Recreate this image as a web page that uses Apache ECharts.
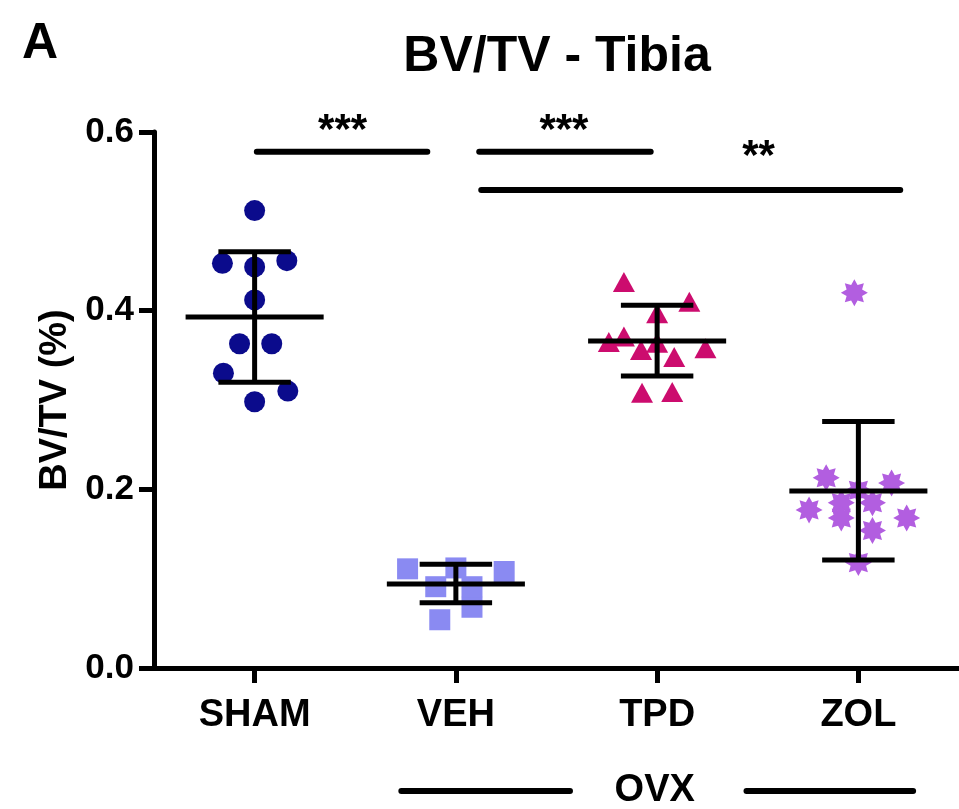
<!DOCTYPE html>
<html>
<head>
<meta charset="utf-8">
<script src="https://cdn.jsdelivr.net/npm/echarts@6/dist/echarts.min.js"></script>
<style>
  html, body { margin: 0; padding: 0; background: #fff; }
  #chart { width: 959px; height: 809px; }
</style>
</head>
<body>
<div id="chart"></div>
<script>
// groups on the x axis
const groups = ['SHAM', 'VEH', 'TPD', 'ZOL'];
const yTicks = [0.0, 0.2, 0.4, 0.6];

// individual animals: horizontal offset inside the group, value
const shamOffset = [0, -0.16, 0, 0.16, 0, -0.075, 0.085, -0.155, 0.165, 0];
const shamValue = [0.512, 0.453, 0.449, 0.456, 0.412, 0.363, 0.363, 0.330, 0.310, 0.298];
const vehOffset = [-0.24, 0, 0.24, -0.08, 0.08, 0.08, -0.1];
const vehValue = [0.111, 0.112, 0.108, 0.054, 0.068, 0.091, 0.091];
const tpdOffset = [-0.165, 0.16, 0, -0.24, -0.165, -0.08, 0, 0.085, 0.24, -0.075, 0.075];
const tpdValue = [0.432, 0.410, 0.397, 0.365, 0.371, 0.356, 0.364, 0.348, 0.358, 0.308, 0.309];
const zolOffset = [-0.02, -0.16, 0.165, 0, -0.245, -0.085, 0.07, -0.085, 0.24, 0.07, 0];
const zolValue = [0.420, 0.213, 0.207, 0.199, 0.177, 0.185, 0.185, 0.168, 0.168, 0.154, 0.118];

// mean and mean +/- SD per group
const means = [0.393, 0.094, 0.366, 0.198];
const sdLow = [0.320, 0.073, 0.327, 0.121];
const sdHigh = [0.466, 0.116, 0.406, 0.276];

// significance brackets: from x, to x, height
const sigBars = [[0.011, 0.858, 0.578], [1.116, 1.968, 0.578], [1.126, 3.208, 0.535]];
const sigStars = ['***', '***', '**'];
const sigStarPos = [[0.437, 0.6006], [1.537, 0.6006], [2.504, 0.5715]];

// OVX group marker below the axis
const ovxLines = [[0.729, 1.567], [2.444, 3.272]];
const ovxY = -0.1377;
const ovxLabelPos = [1.988, -0.1366];

const FONT = '"Liberation Sans", Arial, Helvetica, sans-serif';

function pts(gi, offs, vals) {
  return vals.map((v, i) => [gi + offs[i], v]);
}

// 8 spoke asterisk used for ZOL
function asteriskPath() {
  let d = '';
  for (let k = 0; k < 16; k++) {
    const a = Math.PI * k / 8 - Math.PI / 2;
    const r = k % 2 === 0 ? 1 : 0.62;
    d += (k === 0 ? 'M' : 'L') + (r * Math.cos(a)).toFixed(3) + ' ' + (r * Math.sin(a)).toFixed(3) + ' ';
  }
  return 'path://' + d + 'Z';
}

const chart = echarts.init(document.getElementById('chart'));

const errData = groups.map((g, i) => [i, means[i], sdLow[i], sdHigh[i]]);

chart.setOption({
  animation: false,
  backgroundColor: '#fff',
  grid: { left: 154, right: 0, top: 132, bottom: 141, containLabel: false },
  graphic: [
    { type: 'text', left: 22, top: 19, style: { text: 'A', font: 'bold 50px ' + FONT, fill: '#000' } },
    { type: 'text', x: 557, y: 57, style: { text: 'BV/TV - Tibia', font: 'bold 50px ' + FONT, fill: '#000', align: 'center', verticalAlign: 'middle' } }
  ],
  xAxis: [
    {
      type: 'category',
      data: groups,
      boundaryGap: true,
      axisLine: { lineStyle: { color: '#000', width: 5 } },
      axisTick: { show: true, alignWithLabel: true, length: 15, lineStyle: { color: '#000', width: 5 } },
      axisLabel: { color: '#000', fontSize: 38, fontWeight: 'bold', fontFamily: FONT, margin: 29 },
      splitLine: { show: false }
    },
    { type: 'value', min: -0.5, max: 3.5, show: false }
  ],
  yAxis: {
    type: 'value',
    min: 0,
    max: 0.6,
    interval: 0.2,
    name: 'BV/TV (%)',
    nameLocation: 'middle',
    nameRotate: 90,
    nameGap: 62,
    nameTextStyle: { color: '#000', fontSize: 38, fontWeight: 'bold', fontFamily: FONT },
    axisLine: { show: true, onZero: false, lineStyle: { color: '#000', width: 5 } },
    axisTick: { show: true, length: 15, lineStyle: { color: '#000', width: 5 } },
    axisLabel: { color: '#000', fontSize: 35, fontWeight: 'bold', fontFamily: FONT, margin: 20, formatter: v => v.toFixed(1) },
    splitLine: { show: false }
  },
  series: [
    { type: 'scatter', xAxisIndex: 1, symbol: 'circle', symbolSize: 21, itemStyle: { color: '#0b0b8c', opacity: 1 }, data: pts(0, shamOffset, shamValue), z: 2 },
    { type: 'scatter', xAxisIndex: 1, symbol: 'rect', symbolSize: 21, itemStyle: { color: '#8a8af2', opacity: 1 }, data: pts(1, vehOffset, vehValue), z: 2 },
    { type: 'scatter', xAxisIndex: 1, symbol: 'triangle', symbolSize: [22, 20], itemStyle: { color: '#cc0c6e', opacity: 1 }, data: pts(2, tpdOffset, tpdValue), z: 2 },
    { type: 'scatter', xAxisIndex: 1, symbol: asteriskPath(), symbolSize: 27, itemStyle: { color: '#b25ee0', opacity: 1 }, data: pts(3, zolOffset, zolValue), z: 2 },
    {
      // mean +/- SD
      type: 'custom',
      xAxisIndex: 1,
      z: 5,
      data: errData,
      renderItem: function (params, api) {
        const x = api.value(0);
        const m = api.value(1), lo = api.value(2), hi = api.value(3);
        const st = { stroke: '#000', lineWidth: 5 };
        const seg = (a, b) => ({ type: 'line', shape: { x1: a[0], y1: a[1], x2: b[0], y2: b[1] }, style: st });
        return {
          type: 'group',
          children: [
            seg(api.coord([x - 0.343, m]), api.coord([x + 0.343, m])),
            seg(api.coord([x, lo]), api.coord([x, hi])),
            seg(api.coord([x - 0.18, hi]), api.coord([x + 0.18, hi])),
            seg(api.coord([x - 0.18, lo]), api.coord([x + 0.18, lo]))
          ]
        };
      }
    },
    {
      // significance brackets and stars
      type: 'custom',
      xAxisIndex: 1,
      z: 5,
      clip: false,
      data: sigBars,
      renderItem: function (params, api) {
        const a = api.coord([api.value(0), api.value(2)]);
        const b = api.coord([api.value(1), api.value(2)]);
        const sp = api.coord(sigStarPos[params.dataIndex]);
        return {
          type: 'group',
          children: [
            { type: 'line', shape: { x1: a[0], y1: a[1], x2: b[0], y2: b[1] }, style: { stroke: '#000', lineWidth: 6, lineCap: 'round' } },
            { type: 'text', x: sp[0], y: sp[1], style: { text: sigStars[params.dataIndex], font: 'bold 42px ' + FONT, fill: '#000', align: 'center', verticalAlign: 'middle' } }
          ]
        };
      }
    },
    {
      // OVX grouping below the categories
      type: 'custom',
      xAxisIndex: 1,
      z: 5,
      clip: false,
      data: ovxLines,
      renderItem: function (params, api) {
        const a = api.coord([api.value(0), ovxY]);
        const b = api.coord([api.value(1), ovxY]);
        const children = [
          { type: 'line', shape: { x1: a[0], y1: a[1], x2: b[0], y2: b[1] }, style: { stroke: '#000', lineWidth: 6, lineCap: 'round' } }
        ];
        if (params.dataIndex === 0) {
          const p = api.coord(ovxLabelPos);
          children.push({ type: 'text', x: p[0], y: p[1], style: { text: 'OVX', font: 'bold 38px ' + FONT, fill: '#000', align: 'center', verticalAlign: 'middle' } });
        }
        return { type: 'group', children: children };
      }
    }
  ]
});
</script>
</body>
</html>
